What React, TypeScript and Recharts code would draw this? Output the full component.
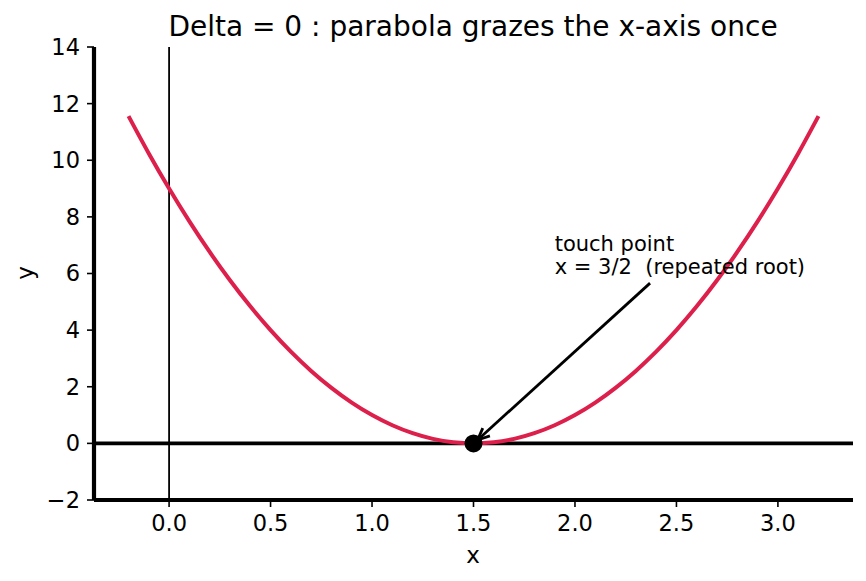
import React from 'react';
import { ComposedChart, Line, XAxis, YAxis, ReferenceLine, ReferenceDot } from 'recharts';

const xValues = [-0.2, -0.1, 0.0, 0.1, 0.2, 0.3, 0.4, 0.5, 0.6, 0.7, 0.8, 0.9, 1.0, 1.1, 1.2, 1.3, 1.4, 1.5, 1.6, 1.7, 1.8, 1.9, 2.0, 2.1, 2.2, 2.3, 2.4, 2.5, 2.6, 2.7, 2.8, 2.9, 3.0, 3.1, 3.2];
const yValues = [11.56, 10.24, 9.0, 7.84, 6.76, 5.76, 4.84, 4.0, 3.24, 2.56, 1.96, 1.44, 1.0, 0.64, 0.36, 0.16, 0.04, 0.0, 0.04, 0.16, 0.36, 0.64, 1.0, 1.44, 1.96, 2.56, 3.24, 4.0, 4.84, 5.76, 6.76, 7.84, 9.0, 10.24, 11.56];
const xTicks = [0, 0.5, 1, 1.5, 2, 2.5, 3];
const yTicks = [-2, 0, 2, 4, 6, 8, 10, 12, 14];
const xDomain = [-0.37, 3.37];
const yDomain = [-2, 14];
const touchPoint = { x: 1.5, y: 0 };
const arrowFrom = { x: 2.37, y: 5.66 };
const arrowTo = { x: 1.52, y: 0.12 };
const annotationAt = { x: 1.9, y: 6 };
const annotationLines = ['touch point', 'x = 3/2  (repeated root)'];
const title = 'Delta = 0 : parabola grazes the x-axis once';
const xLabel = 'x';
const yLabel = 'y';

const data = xValues.map((x, i) => ({ x, y: yValues[i] }));

const FONT = '"DejaVu Sans", sans-serif';
const W = 866;
const H = 581;
const TICK_FS = 22.5;

const fmtY = (v: number) => (v < 0 ? '\u2212' + Math.abs(v) : String(v));
const fmtX = (v: number) => v.toFixed(1);

const ArrowShape = (props: any) => {
  const { x1, y1, x2, y2 } = props;
  const ang = Math.atan2(y2 - y1, x2 - x1);
  const len = 13;
  const spread = 0.42;
  const ax = x2 - len * Math.cos(ang - spread);
  const ay = y2 - len * Math.sin(ang - spread);
  const bx = x2 - len * Math.cos(ang + spread);
  const by = y2 - len * Math.sin(ang + spread);
  return (
    <g>
      <line x1={x1} y1={y1} x2={x2} y2={y2} stroke="#000" strokeWidth={2.8} />
      <polyline points={`${ax},${ay} ${x2},${y2} ${bx},${by}`} fill="none" stroke="#000" strokeWidth={2.8} />
    </g>
  );
};

const AnnotationShape = (props: any) => {
  const { cx, cy } = props;
  return (
    <text x={cx} y={cy} fontFamily={FONT} fontSize={21} fill="#000" style={{ whiteSpace: 'pre' }}>
      <tspan x={cx} y={cy - 22.5}>{annotationLines[0]}</tspan>
      <tspan x={cx} y={cy}>{annotationLines[1]}</tspan>
    </text>
  );
};

export default function App() {
  return (
    <div style={{ position: 'absolute', left: 0, top: 0, width: W, height: H, background: '#fff' }}>
      <ComposedChart width={W} height={H} data={data} margin={{ top: 47, right: 13, bottom: 0, left: 0 }}>
        <XAxis
          dataKey="x"
          type="number"
          domain={xDomain}
          ticks={xTicks}
          allowDataOverflow
          height={81}
          tickFormatter={fmtX}
          axisLine={{ stroke: '#000', strokeWidth: 4.2 }}
          tickLine={{ stroke: '#000', strokeWidth: 1.6 }}
          tickSize={7}
          tickMargin={8}
          tick={{ fill: '#000', fontSize: TICK_FS, fontFamily: FONT }}
          label={{
            content: () => (
              <text x={473} y={563} textAnchor="middle" fontFamily={FONT} fontSize={23} fill="#000">{xLabel}</text>
            ),
          }}
        />
        <YAxis
          type="number"
          domain={yDomain}
          ticks={yTicks}
          allowDataOverflow
          width={94}
          tickFormatter={fmtY}
          axisLine={{ stroke: '#000', strokeWidth: 4.2 }}
          tickLine={{ stroke: '#000', strokeWidth: 1.6 }}
          tickSize={7}
          tickMargin={7}
          tick={{ fill: '#000', fontSize: TICK_FS, fontFamily: FONT }}
          label={{
            content: () => (
              <text transform="translate(33,273) rotate(-90)" textAnchor="middle" fontFamily={FONT} fontSize={23} fill="#000">{yLabel}</text>
            ),
          }}
        />
        <ReferenceLine x={0} stroke="#000" strokeWidth={1.8} />
        <ReferenceLine y={0} stroke="#000" strokeWidth={3.6} />
        <Line dataKey="y" type="monotone" stroke="#DC1F4B" strokeWidth={4} dot={false} isAnimationActive={false} />
        <ReferenceLine segment={[arrowFrom, arrowTo]} shape={ArrowShape} ifOverflow="visible" />
        <ReferenceDot x={touchPoint.x} y={touchPoint.y} r={9} fill="#000" stroke="none" ifOverflow="visible" />
        <ReferenceDot x={annotationAt.x} y={annotationAt.y} r={0} shape={AnnotationShape} ifOverflow="visible" />
      </ComposedChart>
      <svg width={W} height={50} style={{ position: 'absolute', left: 0, top: 0, pointerEvents: 'none' }}>
        <text x={473} y={36} textAnchor="middle" fontFamily={FONT} fontSize={28} fill="#000">{title}</text>
      </svg>
    </div>
  );
}
